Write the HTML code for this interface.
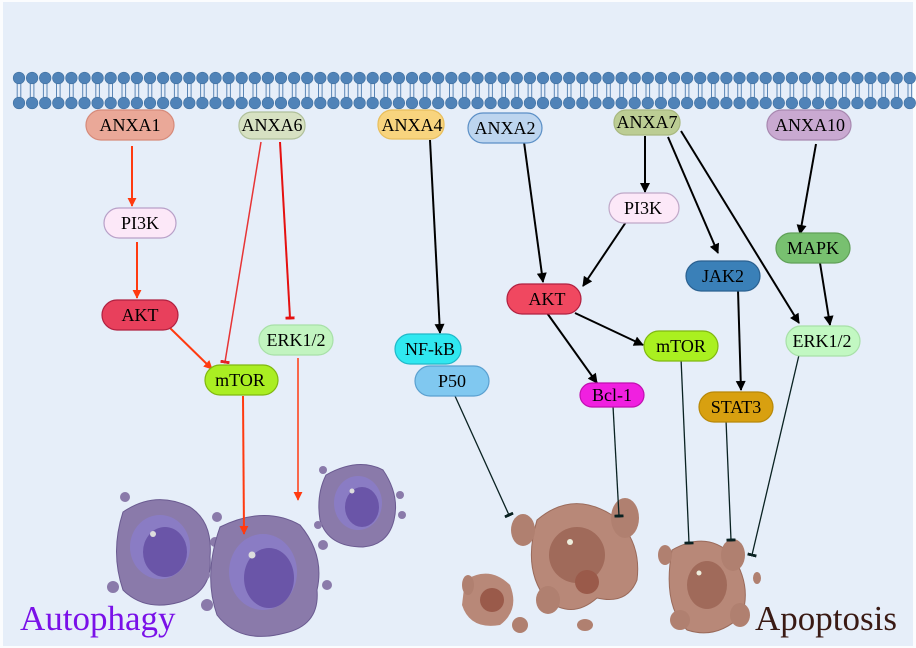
<!DOCTYPE html>
<html><head><meta charset="utf-8"><style>
html,body{margin:0;padding:0;background:#fff;}
svg{display:block;}
svg text{font-family:"Liberation Serif","DejaVu Serif",serif !important;}
</style></head><body>
<svg width="916" height="648" viewBox="0 0 916 648" xmlns="http://www.w3.org/2000/svg" style="font-family:'Liberation Serif',serif">
<defs>
<marker id="ar" viewBox="0 0 10 10" refX="9" refY="5" markerWidth="9" markerHeight="12" orient="auto" markerUnits="userSpaceOnUse"><path d="M0,0 L10,5 L0,10 z" fill="#ff3a10"/></marker>
<marker id="ab" viewBox="0 0 10 10" refX="9" refY="5" markerWidth="12" markerHeight="10" orient="auto" markerUnits="userSpaceOnUse"><path d="M0,0 L10,5 L0,10 z" fill="#000"/></marker>
<marker id="tb" viewBox="0 0 4 12" refX="2" refY="6" markerWidth="3" markerHeight="11" orient="auto" markerUnits="userSpaceOnUse"><rect x="0" y="0" width="4" height="12" fill="#0a2222"/></marker>
<marker id="tr" viewBox="0 0 4 12" refX="2" refY="6" markerWidth="3" markerHeight="12" orient="auto" markerUnits="userSpaceOnUse"><rect x="0" y="0" width="4" height="12" fill="#e51010"/></marker>
</defs>
<rect x="0" y="0" width="916" height="648" fill="#fbfcfe"/>
<rect x="3" y="2" width="910" height="644" fill="#e6eef9"/>
<g id="heads"></g>
<!-- autophagy cells -->
<g>
<g transform="translate(165,552)">
<path d="M-42,-40 Q-10,-62 25,-45 Q48,-30 45,5 Q48,40 15,50 Q-20,60 -42,38 Q-55,0 -42,-40z" fill="#8a7aaa" stroke="#6a5a90"/>
<ellipse cx="-5" cy="-5" rx="30" ry="32" fill="#8a7cc4"/><ellipse cx="0" cy="0" rx="22" ry="25" fill="#6a55a8"/>
<circle cx="-12" cy="-18" r="3" fill="#ddd"/>
<circle cx="-52" cy="35" r="6" fill="#8a7aaa"/><circle cx="-40" cy="-55" r="5" fill="#8a7aaa"/><circle cx="50" cy="-10" r="5" fill="#8a7aaa"/><circle cx="55" cy="20" r="5" fill="#8a7aaa"/>
</g>
<g transform="translate(265,575)">
<path d="M-45,-48 Q0,-70 35,-50 Q60,-20 52,15 Q55,50 20,58 Q-25,70 -48,40 Q-62,0 -45,-48z" fill="#8a7aaa" stroke="#6a5a90"/>
<ellipse cx="-2" cy="-3" rx="34" ry="38" fill="#8a7cc4"/><ellipse cx="4" cy="3" rx="25" ry="30" fill="#6a55a8"/>
<circle cx="-13" cy="-20" r="3.5" fill="#ddd"/>
<circle cx="-58" cy="30" r="6" fill="#8a7aaa"/><circle cx="-48" cy="-58" r="5" fill="#8a7aaa"/><circle cx="58" cy="-30" r="5" fill="#8a7aaa"/><circle cx="62" cy="10" r="5" fill="#8a7aaa"/><circle cx="-60" cy="0" r="5" fill="#8a7aaa"/>
</g>
<g transform="translate(358,505)">
<path d="M-32,-30 Q0,-48 25,-35 Q42,-10 36,15 Q30,40 5,42 Q-30,42 -38,15 Q-42,-10 -32,-30z" fill="#8a7aaa" stroke="#6a5a90"/>
<ellipse cx="0" cy="-2" rx="24" ry="27" fill="#8a7cc4"/><ellipse cx="4" cy="2" rx="17" ry="20" fill="#6a55a8"/>
<circle cx="-6" cy="-14" r="2.5" fill="#ddd"/>
<circle cx="42" cy="-10" r="4" fill="#8a7aaa"/><circle cx="44" cy="10" r="4" fill="#8a7aaa"/><circle cx="-40" cy="20" r="4" fill="#8a7aaa"/><circle cx="-35" cy="-35" r="4" fill="#8a7aaa"/>
</g>
</g>
<!-- apoptosis cells -->
<g fill="#b08070">
<g transform="translate(582,560)">
<path d="M-45,-40 Q-10,-70 30,-45 Q60,-20 55,20 Q45,45 15,38 Q-10,60 -35,40 Q-60,10 -45,-40z" fill="#b88878" stroke="#9a6a5a"/>
<ellipse cx="-5" cy="-5" rx="28" ry="28" fill="#a06a5a"/><circle cx="5" cy="22" r="12" fill="#9a5a4a"/>
<circle cx="-12" cy="-18" r="3" fill="#eed"/>
</g>
<ellipse cx="523" cy="530" rx="12" ry="16"/><ellipse cx="625" cy="518" rx="14" ry="20"/>
<g transform="translate(490,600)"><path d="M-25,-20 Q0,-35 20,-15 Q30,10 10,25 Q-20,30 -28,5z" fill="#b88878"/><circle cx="2" cy="0" r="12" fill="#9a5a4a"/></g>
<ellipse cx="468" cy="585" rx="6" ry="10"/><ellipse cx="520" cy="625" rx="8" ry="8"/><ellipse cx="548" cy="600" rx="12" ry="14"/><ellipse cx="585" cy="625" rx="8" ry="6"/>
<g transform="translate(707,585)"><path d="M-35,-35 Q0,-55 25,-30 Q45,0 35,30 Q10,55 -20,45 Q-45,20 -35,-35z" fill="#b88878" stroke="#9a6a5a"/><ellipse cx="0" cy="0" rx="20" ry="24" fill="#a06a5a"/><circle cx="-8" cy="-12" r="2.5" fill="#eed"/></g>
<ellipse cx="733" cy="555" rx="12" ry="16"/><ellipse cx="740" cy="615" rx="10" ry="12"/><ellipse cx="665" cy="555" rx="7" ry="10"/><ellipse cx="680" cy="620" rx="10" ry="10"/><ellipse cx="757" cy="578" rx="4" ry="6"/>
</g>
<!-- edges left (red) -->
<g stroke="#ff3a10" stroke-width="2" fill="none">
<line x1="132" y1="146" x2="132" y2="206" marker-end="url(#ar)"/>
<line x1="137" y1="242" x2="137" y2="298" marker-end="url(#ar)"/>
<line x1="170" y1="328" x2="212" y2="369" marker-end="url(#ar)"/>
<line x1="243" y1="396" x2="244" y2="534" marker-end="url(#ar)"/>
<line x1="298" y1="358" x2="298" y2="500" stroke-width="1.5" marker-end="url(#ar)"/>
</g>
<line x1="261" y1="142" x2="225" y2="362" stroke="#e82020" stroke-width="1.5" marker-end="url(#tr)" opacity="0.9"/>
<line x1="280" y1="142" x2="290" y2="318" stroke="#e51010" stroke-width="2" marker-end="url(#tr)"/>
<!-- black edges -->
<g stroke="#000" stroke-width="2" fill="none">
<line x1="430" y1="140" x2="440" y2="333" marker-end="url(#ab)"/>
<line x1="524" y1="142" x2="543" y2="282" marker-end="url(#ab)"/>
<line x1="645" y1="136" x2="645" y2="192" marker-end="url(#ab)"/>
<line x1="626" y1="222" x2="583" y2="286" marker-end="url(#ab)"/>
<line x1="668" y1="137" x2="718" y2="253" marker-end="url(#ab)"/>
<line x1="681" y1="131" x2="799" y2="323" marker-end="url(#ab)"/>
<line x1="816" y1="144" x2="800" y2="234" marker-end="url(#ab)"/>
<line x1="820" y1="263" x2="830" y2="325" marker-end="url(#ab)"/>
<line x1="575" y1="313" x2="643" y2="345" marker-end="url(#ab)"/>
<line x1="547" y1="313" x2="597" y2="383" marker-end="url(#ab)"/>
<line x1="738" y1="290" x2="741" y2="390" marker-end="url(#ab)"/>
</g>
<g stroke="#0a2222" stroke-width="1.3" fill="none">
<line x1="455" y1="396" x2="509" y2="515" marker-end="url(#tb)"/>
<line x1="613" y1="406" x2="619" y2="516" marker-end="url(#tb)"/>
<line x1="681" y1="358" x2="689" y2="543" marker-end="url(#tb)"/>
<line x1="726" y1="420" x2="731" y2="540" marker-end="url(#tb)"/>
<line x1="799" y1="355" x2="752" y2="555" marker-end="url(#tb)"/>
</g>
<!-- nodes -->
<g stroke-width="1.2" font-size="18" text-anchor="middle">
<rect x="86" y="110" width="88" height="30" rx="15" fill="#eaa898" stroke="#d68a7a"/><text x="130" y="131">ANXA1</text>
<rect x="239" y="112" width="66" height="27" rx="13" fill="#d7e1c2" stroke="#b0c09a"/><text x="272" y="131">ANXA6</text>
<rect x="378" y="110" width="66" height="29" rx="14" fill="#f8d47e" stroke="#e8be5c"/><text x="412" y="131">ANXA4</text>
<rect x="468" y="113" width="74" height="30" rx="15" fill="#bdd5ef" stroke="#5b8fc6"/><text x="505" y="134">ANXA2</text>
<rect x="614" y="110" width="66" height="25" rx="12" fill="#bccd94" stroke="#a8b880"/><text x="647" y="128">ANXA7</text>
<rect x="767" y="110" width="84" height="30" rx="15" fill="#c9a9d1" stroke="#a888b0"/><text x="810" y="131">ANXA10</text>
<rect x="104" y="208" width="72" height="30" rx="15" fill="#fce8f8" stroke="#b8a0c8"/><text x="140" y="229">PI3K</text>
<rect x="102" y="300" width="76" height="30" rx="15" fill="#e8405c" stroke="#b02040"/><text x="140" y="321">AKT</text>
<rect x="205" y="365" width="73" height="30" rx="15" fill="#aaee22" stroke="#80b810"/><text x="240" y="386">mTOR</text>
<rect x="259" y="325" width="74" height="30" rx="15" fill="#c2f4c0" stroke="#a8e0a8"/><text x="296" y="346">ERK1/2</text>
<rect x="395" y="334" width="66" height="30" rx="15" fill="#30e8f0" stroke="#20b8c8"/><text x="430" y="355">NF-kB</text>
<rect x="415" y="366" width="74" height="30" rx="15" fill="#80c8f0" stroke="#5aa0d0"/><text x="452" y="387">P50</text>
<rect x="609" y="193" width="70" height="30" rx="15" fill="#fce8f8" stroke="#c0a8c8"/><text x="643" y="214">PI3K</text>
<rect x="507" y="284" width="74" height="30" rx="15" fill="#f04860" stroke="#b02040"/><text x="547" y="305">AKT</text>
<rect x="644" y="331" width="74" height="30" rx="15" fill="#aaf020" stroke="#80b810"/><text x="681" y="352">mTOR</text>
<rect x="580" y="383" width="64" height="24" rx="12" fill="#f020e0" stroke="#c010b0"/><text x="612" y="401">Bcl-1</text>
<rect x="686" y="261" width="74" height="30" rx="15" fill="#3a80b8" stroke="#2a6090"/><text x="723" y="282">JAK2</text>
<rect x="699" y="392" width="74" height="30" rx="15" fill="#d8a010" stroke="#b88808"/><text x="736" y="413">STAT3</text>
<rect x="776" y="233" width="74" height="30" rx="15" fill="#78c070" stroke="#60a058"/><text x="813" y="254">MAPK</text>
<rect x="786" y="326" width="74" height="30" rx="15" fill="#c2f8c2" stroke="#a8e0a8"/><text x="822" y="347">ERK1/2</text>
</g>
<text x="20" y="630" font-size="35" fill="#7a10e8">Autophagy</text>
<text x="755" y="630" font-size="35" fill="#3a1a14">Apoptosis</text>
</svg>
<script>
(function(){var g=document.getElementById('heads');var ns='http://www.w3.org/2000/svg';
function el(n,a){var e=document.createElementNS(ns,n);for(var k in a)e.setAttribute(k,a[k]);g.appendChild(e);}
for(var x=19;x<912;x+=13.1){
el('line',{x1:x-1.8,y1:80,x2:x-1.8,y2:101,stroke:'#5a85b5','stroke-width':1});
el('line',{x1:x+1.8,y1:80,x2:x+1.8,y2:101,stroke:'#5a85b5','stroke-width':1});
}
for(var x=19;x<912;x+=13.1){[78,103].forEach(function(y){el('circle',{cx:x,cy:y,r:5.8,fill:'#5083b8',stroke:'#3f6f9f','stroke-width':0.6});});}})();
</script>
</body></html>
